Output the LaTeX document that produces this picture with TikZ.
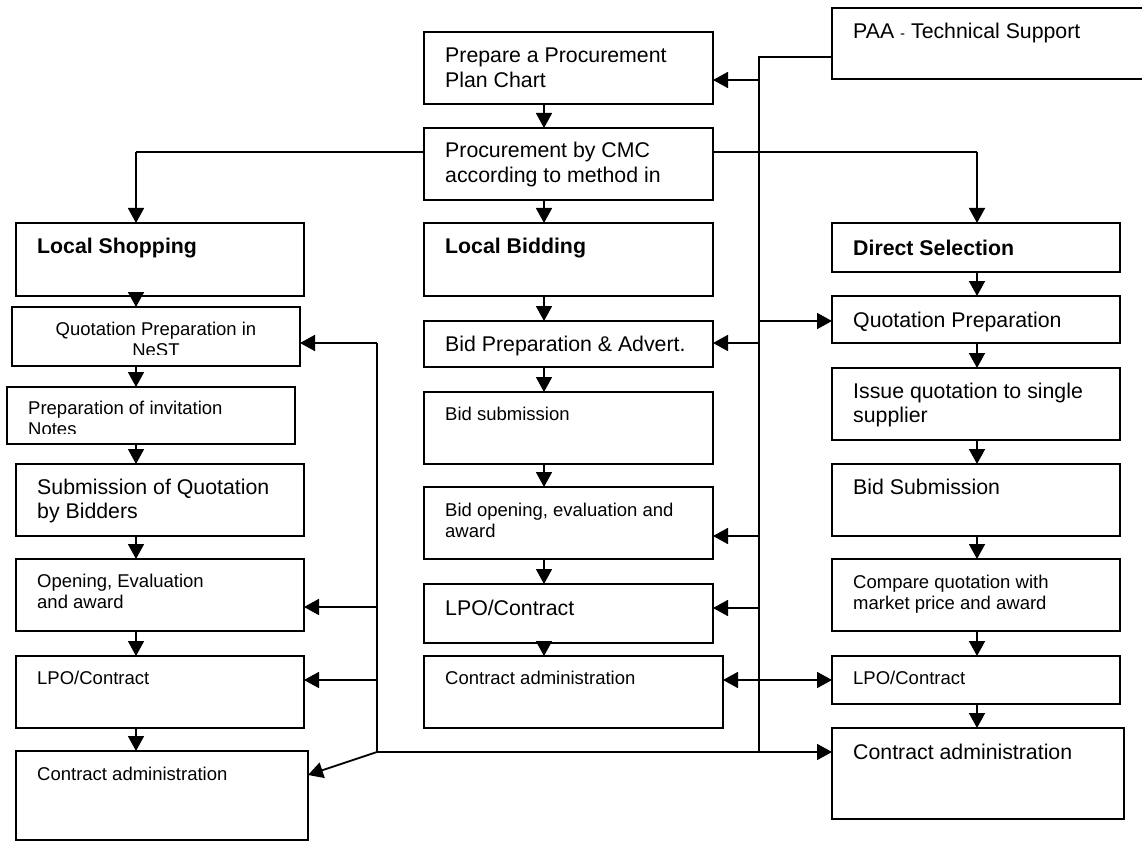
\documentclass[tikz,border=0pt]{standalone}
\usepackage{fontspec}
\setmainfont{Liberation Sans}
\usetikzlibrary{arrows.meta,calc}
\tikzset{
 box/.style={draw, line width=1.5pt, inner sep=0pt, outer sep=0pt},
 big/.style={font=\fontsize{21.3}{24.5}\selectfont},
 bigb/.style={font=\fontsize{21.3}{24.5}\selectfont\bfseries},
 small/.style={font=\fontsize{18.5}{21.3}\selectfont},
 conn/.style={line width=1.8pt},
 thinconn/.style={line width=1.2pt},
 arr/.style={conn, -{Triangle[length=15pt,width=16pt]}},
 darr/.style={conn, {Triangle[length=15pt,width=16pt]}-{Triangle[length=15pt,width=16pt]}},
}
\newcommand\mkbox[5]{\node[box, minimum width={(#4-#2)*1pt}, minimum height={(#5-#3)*1pt}] (#1) at ({(#2+#4)/2},{(#3+#5)/2}) {};}
\newcommand\mktext[4]{\node[anchor=base west, inner sep=0pt, #2] (#1t) at ($(#1.north west)+(21,#3)$) {\begin{tabular}[t]{@{}l@{}}#4\end{tabular}};}
\begin{document}
\begin{tikzpicture}[x=1pt,y=-1pt]
\useasboundingbox (0,0) rectangle (1142,842);
% coordinates for connector columns/levels
\coordinate (lx) at (136,0);
\coordinate (mx) at (544,0);
\coordinate (rx) at (977,0);
\coordinate (T) at (759,0);
\coordinate (L) at (377,0);
\coordinate (y57) at (0,57);
\coordinate (y80) at (0,80);
\coordinate (y152) at (0,152);
\coordinate (y321) at (0,321);
\coordinate (y343) at (0,343);
\coordinate (y536) at (0,536);
\coordinate (y607) at (0,607);
\coordinate (y608) at (0,608);
\coordinate (y680) at (0,680);
\coordinate (y752) at (0,752);
\coordinate (y775) at (0,775);
% middle column
\mkbox{prep}{424}{32}{713}{104}
\mktext{prep}{big}{31}{Prepare a Procurement\\Plan Chart}
\mkbox{proc}{424}{128}{713}{200}
\mktext{proc}{big}{30}{Procurement by CMC\\according to method in}
\mkbox{lb}{424}{223}{713}{296}
\mktext{lb}{bigb}{31}{Local Bidding}
\mkbox{bprep}{424}{321}{713}{367}
\mktext{bprep}{big}{30}{Bid Preparation \& Advert.}
\mkbox{bsub}{424}{392}{713}{464}
\mktext{bsub}{small}{28}{Bid submission}
\mkbox{bopen}{424}{487}{713}{559}
\mktext{bopen}{small}{29}{Bid opening, evaluation and\\award}
\mkbox{lpoM}{424}{584}{713}{643}
\mktext{lpoM}{big}{31}{LPO/Contract}
\mkbox{caM}{424}{656}{723}{728}
\mktext{caM}{small}{28}{Contract administration}
% right column
\mkbox{paa}{832}{8}{1150}{79}
\mktext{paa}{big}{31}{PAA {\fontsize{15}{17}\selectfont -} Technical Support}
\mkbox{ds}{832}{223}{1120}{272}
\mktext{ds}{bigb}{32}{Direct Selection}
\mkbox{qp}{832}{296}{1120}{343}
\mktext{qp}{big}{31}{Quotation Preparation}
\mkbox{iq}{832}{368}{1120}{440}
\mktext{iq}{big}{30}{Issue quotation to single\\supplier}
\mkbox{bsR}{832}{464}{1120}{536}
\mktext{bsR}{big}{30}{Bid Submission}
\mkbox{cmp}{832}{559}{1120}{631}
\mktext{cmp}{small}{29}{Compare quotation with\\market price and award}
\mkbox{lpoR}{832}{656}{1120}{704}
\mktext{lpoR}{small}{28}{LPO/Contract}
\mkbox{caR}{832}{728}{1124}{819}
\mktext{caR}{big}{31}{Contract administration}
% left column
\mkbox{ls}{16}{223}{304}{296}
\mktext{ls}{bigb}{31}{Local Shopping}
\mkbox{nest}{12}{307}{300}{366}
\begin{scope}
\clip (nest.north west) rectangle ($(nest.south east)+(0,-12)$);
\node[anchor=base, inner sep=0pt, small] (nestt) at ($(nest.north)+(0,28)$) {\begin{tabular}[t]{@{}c@{}}Quotation Preparation in\\NeST\end{tabular}};
\end{scope}
\mkbox{pinv}{7}{387}{295}{444}
\begin{scope}
\clip (pinv.north west) rectangle ($(pinv.south east)+(0,-11)$);
\mktext{pinv}{small}{27}{Preparation of invitation\\Notes}
\end{scope}
\mkbox{sub}{16}{464}{304}{536}
\mktext{sub}{big}{30}{Submission of Quotation\\by Bidders}
\mkbox{open}{16}{559}{304}{631}
\mktext{open}{small}{28}{Opening, Evaluation\\and award}
\mkbox{lpoL}{16}{656}{304}{728}
\mktext{lpoL}{small}{28}{LPO/Contract}
\mkbox{caL}{16}{751}{308}{840}
\mktext{caL}{small}{29}{Contract administration}
% vertical flow arrows, middle
\draw[arr] (prep.south -| mx) -- (proc.north -| mx);
\draw[arr] (proc.south -| mx) -- (lb.north -| mx);
\draw[arr] (lb.south -| mx) -- (bprep.north -| mx);
\draw[arr] (bprep.south -| mx) -- (bsub.north -| mx);
\draw[arr] (bsub.south -| mx) -- (bopen.north -| mx);
\draw[arr] (bopen.south -| mx) -- (lpoM.north -| mx);
\draw[arr] (lpoM.south -| mx) -- (caM.north -| mx);
% right
\draw[arr] (ds.south -| rx) -- (qp.north -| rx);
\draw[arr] (qp.south -| rx) -- (iq.north -| rx);
\draw[arr] (iq.south -| rx) -- (bsR.north -| rx);
\draw[arr] (bsR.south -| rx) -- (cmp.north -| rx);
\draw[arr] (cmp.south -| rx) -- (lpoR.north -| rx);
\draw[arr] (lpoR.south -| rx) -- (caR.north -| rx);
% left
\draw[arr] (ls.south -| lx) -- (nest.north -| lx);
\draw[arr] (nest.south -| lx) -- (pinv.north -| lx);
\draw[arr] (pinv.south -| lx) -- (sub.north -| lx);
\draw[arr] (sub.south -| lx) -- (open.north -| lx);
\draw[arr] (open.south -| lx) -- (lpoL.north -| lx);
\draw[arr] (lpoL.south -| lx) -- (caL.north -| lx);
% procurement branches
\draw[thinconn] (proc.west |- y152) -- (lx |- y152);
\draw[arr] (lx |- y152) -- (ls.north -| lx);
\draw[thinconn] (proc.east |- y152) -- (rx |- y152);
\draw[arr] (rx |- y152) -- (ds.north -| rx);
% technical support trunk
\draw[conn] (paa.west |- y57) -- (T |- y57) -- (T |- y752);
\draw[arr] (T |- y80) -- (prep.east |- y80);
\draw[arr] (T |- y321) -- (qp.west |- y321);
\draw[arr] (T |- y343) -- (bprep.east |- y343);
\draw[arr] (T |- y536) -- (bopen.east |- y536);
\draw[arr] (T |- y608) -- (lpoM.east |- y608);
\draw[darr] (caM.east |- y680) -- (lpoR.west |- y680);
% left trunk
\draw[arr] (L |- y343) -- (L |- y752) -- (caR.west |- y752);
\draw[arr] (L |- y343) -- (nest.east |- y343);
\draw[arr] (L |- y607) -- (open.east |- y607);
\draw[arr] (L |- y680) -- (lpoL.east |- y680);
\draw[arr] (L |- y752) -- (caL.east |- y775);
\end{tikzpicture}
\end{document}
